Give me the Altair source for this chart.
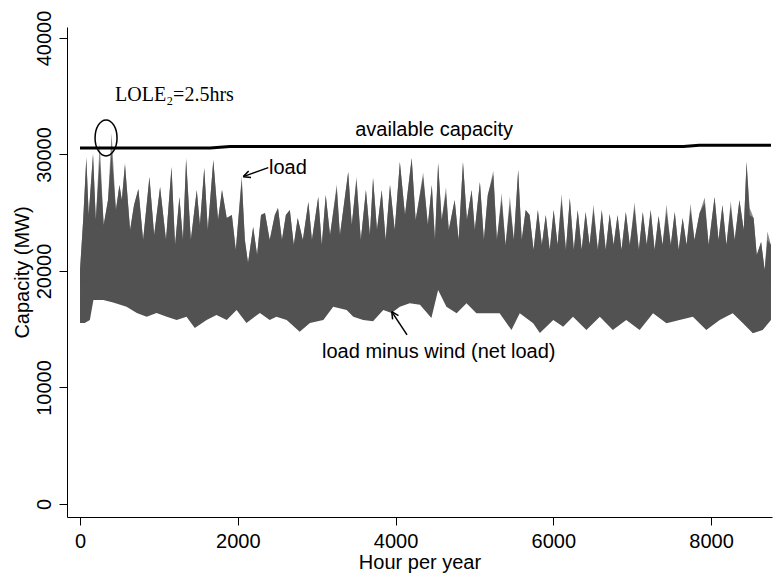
import altair as alt
import pandas as pd

# ---------------- data ----------------
hours_top = [0, 40, 80, 110, 165, 200, 250, 300, 355, 400,
             455, 500, 530, 570, 635, 685, 740, 800, 880, 940,
             1015, 1090, 1160, 1205, 1260, 1305, 1345, 1405, 1480, 1520,
             1575, 1620, 1690, 1750, 1800, 1860, 1925, 1975, 2050, 2090,
             2130, 2195, 2245, 2295, 2345, 2405, 2470, 2510, 2560, 2610,
             2660, 2710, 2760, 2825, 2895, 2940, 3020, 3065, 3115, 3170,
             3255, 3295, 3345, 3400, 3445, 3505, 3560, 3625, 3675, 3715,
             3765, 3825, 3875, 3930, 3990, 4055, 4120, 4205, 4255, 4350,
             4410, 4460, 4500, 4540, 4585, 4640, 4675, 4750, 4800, 4855,
             4905, 4965, 5005, 5070, 5120, 5170, 5240, 5285, 5345, 5395,
             5450, 5500, 5555, 5600, 5650, 5700, 5750, 5805, 5855, 5905,
             5955, 6005, 6055, 6105, 6160, 6210, 6260, 6310, 6360, 6410,
             6460, 6510, 6565, 6615, 6665, 6715, 6765, 6815, 6865, 6920,
             6970, 7030, 7085, 7135, 7185, 7235, 7285, 7335, 7385, 7435,
             7490, 7540, 7590, 7640, 7690, 7740, 7790, 7855, 7920, 7970,
             8045, 8095, 8145, 8195, 8250, 8300, 8360, 8415, 8450, 8490,
             8540, 8580, 8635, 8680, 8715, 8760]

net_top = [20090, 24380, 29610, 24810, 29960, 24380, 29530, 23950, 26100, 30200,
           25240, 27380, 26100, 29100, 23520, 25670, 27040, 22660, 28070, 23090,
           27210, 22660, 28930, 22230, 26350, 22660, 29530, 22660, 26950, 23950,
           28840, 23520, 29530, 24380, 26950, 24550, 24810, 21800, 27810, 22660,
           20690, 23780, 21370, 24810, 24980, 22660, 24810, 25410, 22660, 24810,
           25240, 22230, 24550, 22660, 25920, 22660, 26350, 22230, 26520, 23090,
           27130, 23090, 25670, 28500, 23950, 27810, 22660, 26950, 23090, 27980,
           23520, 26950, 22660, 27380, 23520, 29360, 24810, 29700, 24380, 28070,
           23950, 27380, 22660, 29270, 24380, 26700, 23520, 26100, 22660, 29360,
           24380, 26950, 23520, 27640, 22660, 26520, 28240, 22660, 26100, 22230,
           25670, 22660, 28670, 22660, 25240, 24810, 21800, 25240, 22230, 24810,
           21800, 25240, 22230, 26100, 21800, 26270, 21800, 25240, 21800, 25070,
           22230, 25240, 21800, 25240, 21800, 24890, 22230, 24810, 21800, 25070,
           22230, 25410, 21800, 25070, 22230, 25240, 21800, 24720, 22230, 25070,
           22230, 25070, 21800, 24550, 22230, 25240, 22660, 24980, 25840, 22230,
           26350, 22660, 25670, 22230, 25490, 22660, 26100, 23520, 29360, 24810,
           24550, 21370, 22490, 20090, 22660, 22230]

# load peaks that stick out above the net load (lighter grey tips)
load_peaks = {80: 29850, 165: 30150, 250: 30990, 400: 31850, 570: 29300,
              1345: 29750, 2050: 28150, 3255: 27450, 3505: 28100, 4350: 28450,
              4640: 27200, 5240: 28600, 5345: 26700, 5450: 26400, 6105: 26600,
              6510: 25700, 7030: 25900, 7435: 25700, 7740: 25800, 7920: 26300,
              8250: 26000, 8490: 25400, 8715: 23400}

hours_low = [0, 60, 125, 170, 295, 420, 590, 720, 845, 970,
             1100, 1225, 1350, 1455, 1605, 1730, 1860, 1985, 2110, 2280,
             2405, 2490, 2620, 2785, 2915, 3085, 3210, 3380, 3465, 3590,
             3715, 3845, 3950, 4055, 4180, 4310, 4455, 4540, 4645, 4775,
             4900, 5025, 5155, 5320, 5470, 5575, 5745, 5830, 6000, 6125,
             6250, 6420, 6590, 6755, 6925, 7095, 7265, 7435, 7600, 7770,
             7940, 8110, 8275, 8405, 8530, 8655, 8760]
net_low = [15540, 15540, 15800, 17510, 17500, 17300, 16940, 16400, 16080, 16400,
           16080, 15800, 16080, 15110, 15800, 16220, 15800, 16650, 15540, 16400,
           15800, 16080, 15800, 14790, 15540, 15800, 16940, 16650, 16080, 15800,
           15680, 16650, 16400, 16940, 17230, 17100, 15970, 18370, 16940, 16370,
           17230, 16370, 16370, 16370, 14940, 16370, 15510, 14680, 15800, 15220,
           16080, 14940, 16080, 14940, 15800, 14940, 16370, 15510, 15800, 16080,
           14940, 15800, 16370, 15510, 14650, 14940, 15800]

cap_hours = [0, 1650, 1900, 7650, 7850, 8760]
cap_mw = [30550, 30550, 30680, 30680, 30790, 30790]

x_ticks = [0, 2000, 4000, 6000, 8000]
y_ticks = [0, 10000, 20000, 30000, 40000]

load_top = [load_peaks.get(h, v) for h, v in zip(hours_top, net_top)]
top_df = pd.DataFrame({"hour": hours_top, "net": net_top, "load": load_top})
low_df = pd.DataFrame({"hour": hours_low, "low": net_low})
cap_df = pd.DataFrame({"hour": cap_hours, "mw": cap_mw})

# ---------------- styling ----------------
SANS = "Liberation Sans"
SERIF = "Liberation Serif"
DARK = "#525252"
LIGHT = "#8a8a8a"

xs = alt.Scale(domain=[-165, 8773], nice=False, zero=False)
ys = alt.Scale(domain=[-1116, 40944], nice=False, zero=False)

axis_common = dict(grid=False, domainColor="black", tickColor="black", tickSize=8,
                   labelFont=SANS, labelFontSize=20, labelColor="black",
                   titleFont=SANS, titleFontSize=20, titleFontWeight="normal",
                   titleColor="black", format="d", domainWidth=1, tickWidth=1)
x_axis = alt.Axis(values=x_ticks, title="Hour per year", labelPadding=6,
                  titleBaseline="alphabetic", titleY=51, **axis_common)
y_axis = alt.Axis(values=y_ticks, title="Capacity (MW)", labelAngle=270,
                  labelAlign="center", labelBaseline="alphabetic",
                  labelPadding=9, titlePadding=2, **axis_common)


def X(field):
    return alt.X(field, type="quantitative", scale=xs, axis=x_axis)


def Y(field):
    return alt.Y(field, type="quantitative", scale=ys, axis=y_axis)


load_area = alt.Chart(top_df).mark_area(color=LIGHT, opacity=1).encode(
    x=X("hour"), y=Y("load"), y2=alt.datum(18800))
net_area = alt.Chart(top_df).mark_area(color=DARK, opacity=1).encode(
    x=X("hour"), y=Y("net"), y2=alt.datum(18800))
low_area = alt.Chart(low_df).mark_area(color=DARK, opacity=1).encode(
    x=X("hour"), y=Y("low"), y2=alt.datum(19200))

cap_line = alt.Chart(cap_df).mark_line(color="black", strokeWidth=3).encode(
    x=X("hour"), y=Y("mw"))

ellipse_df = pd.DataFrame({"hour": [330], "mw": [31420]})
ellipse = alt.Chart(ellipse_df).mark_point(
    shape="M -0.61 0 A 0.61 1 0 1 1 0.61 0 A 0.61 1 0 1 1 -0.61 0 Z",
    size=1296, filled=False, color="black", strokeWidth=1.5, opacity=1
).encode(x=X("hour"), y=Y("mw"))

arrow_df = pd.DataFrame({"hour": [2387, 4146], "mw": [28870, 14510],
                         "hour2": [2070, 3952], "mw2": [28100, 16510],
                         "ang": [250, 327]})
arrow_lines = alt.Chart(arrow_df).mark_rule(color="black", strokeWidth=1.5).encode(
    x=X("hour"), y=Y("mw"), x2="hour2", y2="mw2")
head1 = alt.Chart(arrow_df.iloc[[0]]).mark_point(
    shape="M 0 0 L -0.5 1 M 0 0 L 0.5 1", size=196, filled=False,
    color="black", strokeWidth=1.5, opacity=1, angle=250
).encode(x=X("hour2"), y=Y("mw2"))
head2 = alt.Chart(arrow_df.iloc[[1]]).mark_point(
    shape="M 0 0 L -0.5 1 M 0 0 L 0.5 1", size=196, filled=False,
    color="black", strokeWidth=1.5, opacity=1, angle=327
).encode(x=X("hour2"), y=Y("mw2"))


def label(text, hour, mw, align="left", font=SANS):
    df = pd.DataFrame({"hour": [hour], "mw": [mw], "t": [text]})
    return alt.Chart(df).mark_text(font=font, fontSize=20, color="black",
                                   align=align, baseline="alphabetic").encode(
        x=X("hour"), y=Y("mw"), text="t:N")


t_cap = label("available capacity", 4490, 31590, align="center")
t_load = label("load", 2396, 28330)
t_net = label("load minus wind (net load)", 3068, 12530)
t_lole = label("LOLE\u2082=2.5hrs", 444, 34590, font=SERIF)

chart = alt.layer(
    load_area, net_area, low_area, cap_line, ellipse,
    arrow_lines, head1, head2, t_cap, t_load, t_net, t_lole
).properties(
    width=705, height=490,
    padding={"left": 67, "top": 27, "right": 2, "bottom": 56},
    autosize=alt.AutoSizeParams(type="none")
).configure(background="white").configure_view(stroke=None)

chart.save("out.html", embed_options={"renderer": "svg", "actions": False})
